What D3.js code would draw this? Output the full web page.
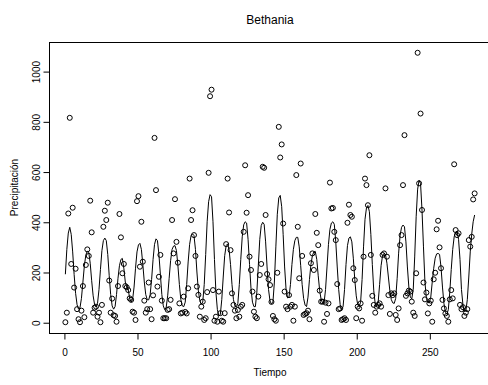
<!DOCTYPE html>
<html>
<head>
<meta charset="utf-8">
<script src="https://cdn.jsdelivr.net/npm/d3@7"></script>
<style>
  html, body { margin: 0; padding: 0; background: #fff; }
  svg { display: block; }
  text { font-family: "Liberation Sans", Arial, Helvetica, sans-serif; fill: #000; }
</style>
</head>
<body>
<svg id="chart" width="488" height="385"></svg>
<script>
// Monthly precipitation observed at Bethania (one value per month)
const precip = [
  0, 38, 433, 814, 232, 456, 138, 213, 52, 12,
  0, 46, 144, 20, 228, 290, 264, 484, 358, 38,
  58, 62, 22, 38, 0, 69, 380, 444, 407, 476,
  166, 38, 94, 28, 25, 2, 144, 431, 338, 195,
  232, 144, 139, 128, 95, 89, 42, 38, 9, 482,
  502, 221, 400, 241, 86, 38, 52, 158, 52, 12,
  107, 734, 526, 142, 181, 268, 86, 16, 16, 16,
  49, 52, 89, 407, 274, 490, 320, 237, 75, 35,
  38, 102, 41, 35, 135, 572, 407, 446, 347, 264,
  142, 109, 22, 62, 82, 9, 16, 120, 595, 900,
  926, 128, 6, 22, 2, 122, 36, 6, 2, 36,
  311, 572, 437, 287, 115, 69, 46, 16, 49, 22,
  62, 69, 360, 625, 436, 506, 261, 208, 122, 42,
  22, 16, 102, 188, 232, 619, 615, 427, 192, 171,
  148, 81, 25, 12, 6, 197, 778, 656, 708, 393,
  122, 62, 52, 108, 62, 69, 6, 62, 586, 380,
  175, 632, 264, 29, 33, 36, 46, 12, 235, 274,
  208, 431, 356, 307, 126, 82, 82, 2, 78, 33,
  75, 556, 453, 455, 360, 327, 152, 52, 55, 9,
  12, 16, 9, 396, 468, 427, 420, 215, 168, 16,
  62, 55, 75, 6, 261, 572, 546, 466, 665, 268,
  105, 69, 38, 62, 69, 75, 62, 268, 274, 533,
  261, 108, 33, 115, 108, 115, 29, 9, 55, 307,
  347, 546, 745, 105, 115, 126, 122, 82, 38, 25,
  195, 1073, 553, 831, 447, 158, 91, 118, 35, 75,
  86, 2, 171, 197, 370, 404, 298, 215, 89, 55,
  35, 25, 2, 91, 128, 95, 629, 367, 347, 354,
  69, 52, 60, 25, 38, 52, 327, 301, 340, 489, 513
];

// Fitted seasonal curve, one value per month
const fitted = [
  191, 290, 355, 378, 350, 280, 190, 115, 70, 52,
  58, 95, 160, 225, 268, 283, 278, 235, 165, 105,
  70, 60, 75, 130, 210, 285, 325, 335, 325, 270,
  185, 110, 65, 52, 62, 110, 175, 225, 250, 254,
  215, 160, 140, 130, 95, 80, 90, 140, 215, 280,
  308, 314, 290, 230, 160, 110, 90, 89, 110, 170,
  250, 310, 332, 325, 270, 190, 110, 65, 50, 60,
  105, 175, 245, 290, 303, 305, 285, 225, 150, 90,
  65, 62, 80, 150, 240, 310, 345, 352, 345, 290,
  200, 125, 85, 72, 80, 150, 270, 400, 480, 508,
  500, 400, 250, 120, 50, 25, 30, 90, 180, 265,
  305, 312, 290, 230, 150, 90, 65, 60, 75, 150,
  250, 340, 388, 400, 395, 330, 230, 135, 80, 62,
  62, 120, 225, 330, 385, 398, 390, 320, 220, 130,
  85, 72, 80, 160, 300, 430, 495, 505, 460, 350,
  220, 130, 97, 100, 150, 230, 290, 325, 338, 338,
  300, 225, 150, 95, 68, 62, 100, 170, 230, 265,
  280, 282, 250, 185, 125, 90, 76, 78, 130, 220,
  310, 370, 395, 400, 390, 320, 220, 130, 70, 50,
  62, 130, 230, 305, 335, 340, 320, 255, 170, 105,
  70, 62, 80, 170, 300, 410, 455, 465, 440, 350,
  230, 125, 72, 62, 80, 150, 225, 265, 274, 270,
  235, 180, 125, 90, 77, 75, 95, 175, 275, 345,
  378, 387, 380, 320, 220, 140, 100, 93, 130, 260,
  420, 530, 565, 552, 446, 300, 160, 95, 78, 78,
  100, 160, 215, 255, 272, 274, 270, 220, 140, 75,
  40, 32, 50, 120, 210, 290, 340, 360, 362, 330,
  250, 130, 70, 42, 45, 90, 180, 280, 350, 400, 427
];

// Time index (months 1..n)
const months = precip.map((_, i) => i + 1);

const xTicks = [0, 50, 100, 150, 200, 250];
const yTicks = [0, 200, 400, 600, 800, 1000];

const titleText = "Bethania";
const xLabel = "Tiempo";
const yLabel = "Precipitación";

// Plot region in pixels
const plot = { left: 49, right: 491, top: 42, bottom: 333 };

// Pad the data range by 4% on each side, like a classic base plot
function padded([lo, hi]) {
  const p = (hi - lo) * 0.04;
  return [lo - p, hi + p];
}

const x = d3.scaleLinear()
  .domain(padded(d3.extent(months)))
  .range([plot.left, plot.right]);

const yExt = d3.extent(precip.concat(fitted));
const y = d3.scaleLinear()
  .domain(padded(yExt))
  .range([plot.bottom, plot.top]);

const svg = d3.select("#chart");

// Frame around the plotting region
svg.append("rect")
  .attr("x", plot.left + 0.5)
  .attr("y", plot.top + 0.5)
  .attr("width", plot.right - plot.left)
  .attr("height", plot.bottom - plot.top)
  .attr("fill", "none")
  .attr("stroke", "#000")
  .attr("stroke-width", 1);

// Axes
const xAxis = svg.append("g")
  .attr("transform", `translate(0.5,${plot.bottom + 0.5})`)
  .call(d3.axisBottom(x).tickValues(xTicks).tickSize(6).tickPadding(9).tickFormat(d3.format("d")));
xAxis.select(".domain").remove();
xAxis.selectAll("line").attr("stroke", "#000");
xAxis.selectAll("text").attr("font-size", 10).attr("fill", "#000")
  .attr("font-family", "Liberation Sans, Arial, sans-serif");

const yAxis = svg.append("g")
  .attr("transform", `translate(${plot.left + 0.5},0.5)`)
  .call(d3.axisLeft(y).tickValues(yTicks).tickSize(6).tickFormat(d3.format("d")));
yAxis.select(".domain").remove();
yAxis.selectAll("line").attr("stroke", "#000");
yAxis.selectAll("text")
  .attr("font-size", 10)
  .attr("fill", "#000")
  .attr("font-family", "Liberation Sans, Arial, sans-serif")
  .attr("text-anchor", "middle")
  .attr("dy", null)
  .attr("x", null)
  .attr("transform", "translate(-10,0) rotate(-90)");

// Fitted curve
const line = d3.line()
  .x((d, i) => x(months[i]))
  .y(d => y(d));

svg.append("path")
  .datum(fitted)
  .attr("d", line)
  .attr("fill", "none")
  .attr("stroke", "#000")
  .attr("stroke-width", 1);

// Observations as open circles
svg.append("g")
  .selectAll("circle")
  .data(precip)
  .join("circle")
  .attr("cx", (d, i) => x(months[i]))
  .attr("cy", d => y(d))
  .attr("r", 2.5)
  .attr("fill", "none")
  .attr("stroke", "#000")
  .attr("stroke-width", 1);

// Title and axis labels
svg.append("text")
  .attr("x", (plot.left + plot.right) / 2)
  .attr("y", 24)
  .attr("text-anchor", "middle")
  .attr("font-size", 12)
  .text(titleText);

svg.append("text")
  .attr("x", (plot.left + plot.right) / 2)
  .attr("y", 376)
  .attr("text-anchor", "middle")
  .attr("font-size", 10)
  .text(xLabel);

svg.append("text")
  .attr("transform", `translate(18,${(plot.top + plot.bottom) / 2}) rotate(-90)`)
  .attr("text-anchor", "middle")
  .attr("font-size", 10)
  .text(yLabel);
</script>
</body>
</html>
